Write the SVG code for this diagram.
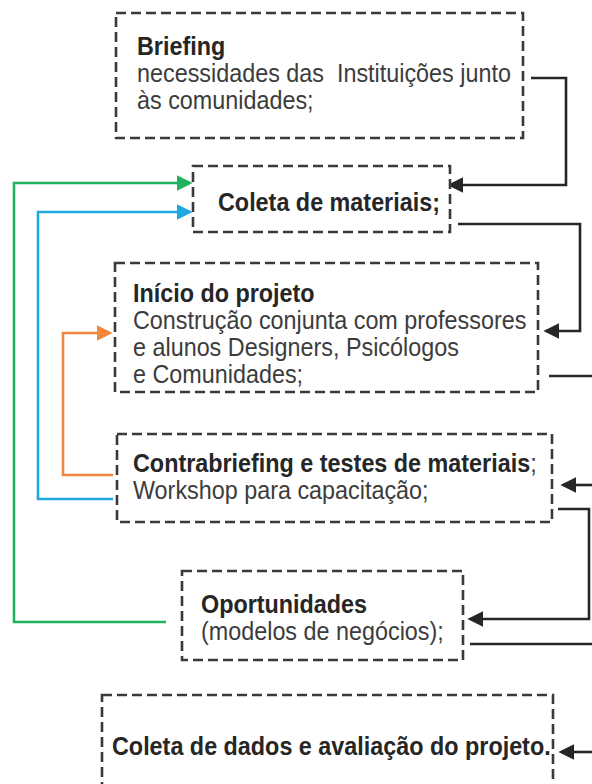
<svg xmlns="http://www.w3.org/2000/svg" width="592" height="784" viewBox="0 0 592 784">
<style>
.box{fill:#fff;stroke:#3a3a3a;stroke-width:2.6;stroke-dasharray:10 5}
.t{font-family:"Liberation Sans",Arial,sans-serif;font-size:25.4px;fill:#3c3c3c;white-space:pre}
.b{font-weight:bold;fill:#262626}
.k{fill:none;stroke:#262626;stroke-width:2.6}
.g{fill:none;stroke:#22b25e;stroke-width:2.6}
.c{fill:none;stroke:#1fa9e1;stroke-width:2.6}
.o{fill:none;stroke:#f0873a;stroke-width:2.6}
</style>
<defs>
<marker id="ak" markerWidth="6" markerHeight="6" refX="5" refY="3" orient="auto" markerUnits="strokeWidth"><path d="M0,0 L6,3 L0,6 z" fill="#262626"/></marker>
<marker id="ag" markerWidth="6" markerHeight="6" refX="5" refY="3" orient="auto" markerUnits="strokeWidth"><path d="M0,0 L6,3 L0,6 z" fill="#22b25e"/></marker>
<marker id="ac" markerWidth="6" markerHeight="6" refX="5" refY="3" orient="auto" markerUnits="strokeWidth"><path d="M0,0 L6,3 L0,6 z" fill="#1fa9e1"/></marker>
<marker id="ao" markerWidth="6" markerHeight="6" refX="5" refY="3" orient="auto" markerUnits="strokeWidth"><path d="M0,0 L6,3 L0,6 z" fill="#f0873a"/></marker>
</defs>
<rect width="592" height="784" fill="#fff"/>
<g id="connectors">
<polyline class="k" points="531,78 566,78 566,185 450,185" marker-end="url(#ak)"/>
<polyline class="k" points="458,224 580,224 580,331 546,331" marker-end="url(#ak)"/>
<line class="k" x1="549" y1="376" x2="592" y2="376"/>
<line class="k" x1="592" y1="485" x2="563" y2="485" marker-end="url(#ak)"/>
<polyline class="k" points="558,509 589,509 589,619 470,619" marker-end="url(#ak)"/>
<line class="k" x1="470" y1="644" x2="592" y2="644"/>
<line class="k" x1="592" y1="752" x2="561" y2="752" marker-end="url(#ak)"/>
<polyline class="g" points="166,622 14,622 14,183 190,183" marker-end="url(#ag)"/>
<polyline class="c" points="113,499 38,499 38,212 190,212" marker-end="url(#ac)"/>
<polyline class="o" points="113,475 63,475 63,333 110,333" marker-end="url(#ao)"/>
</g>
<g id="briefing">
<rect class="box" x="116" y="13" width="407" height="125"/>
<text class="t b" transform="translate(137,55) scale(0.92,1)">Briefing</text>
<text class="t" transform="translate(137,82) scale(0.92,1)" xml:space="preserve">necessidades das  Instituições junto</text>
<text class="t" transform="translate(137,109) scale(0.92,1)">às comunidades;</text>
</g>
<g id="coleta-materiais">
<rect class="box" x="193" y="166" width="257" height="66"/>
<text class="t b" transform="translate(218,211) scale(0.92,1)">Coleta de materiais;</text>
</g>
<g id="inicio">
<rect class="box" x="115" y="263" width="423" height="129"/>
<text class="t b" transform="translate(133,302) scale(0.92,1)">Início do projeto</text>
<text class="t" transform="translate(133,329) scale(0.92,1)">Construção conjunta com professores</text>
<text class="t" transform="translate(133,356) scale(0.92,1)">e alunos Designers, Psicólogos</text>
<text class="t" transform="translate(133,383) scale(0.92,1)">e Comunidades;</text>
</g>
<g id="contrabriefing">
<rect class="box" x="117" y="434" width="435" height="88"/>
<text class="t" transform="translate(133,472) scale(0.92,1)"><tspan class="b">Contrabriefing e testes de materiais</tspan>;</text>
<text class="t" transform="translate(133,499) scale(0.92,1)">Workshop para capacitação;</text>
</g>
<g id="oportunidades">
<rect class="box" x="182" y="571" width="281" height="89"/>
<text class="t b" transform="translate(201,613) scale(0.92,1)">Oportunidades</text>
<text class="t" transform="translate(201,640) scale(0.92,1)">(modelos de negócios);</text>
</g>
<g id="coleta-dados">
<rect class="box" x="102" y="695" width="451" height="100"/>
<text class="t b" transform="translate(112,755) scale(0.92,1)">Coleta de dados e avaliação do projeto.</text>
</g>
</svg>
